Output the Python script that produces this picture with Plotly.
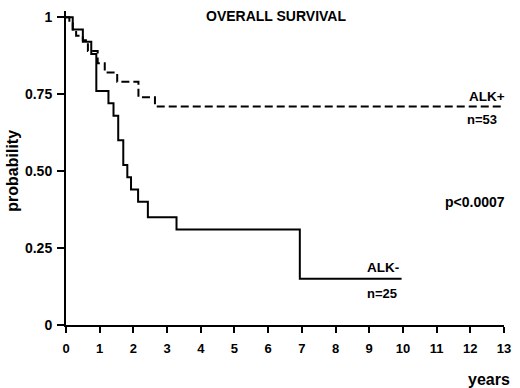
import plotly.graph_objects as go

# ALK- (solid) Kaplan-Meier steps
alk_neg_years = [0, 0.2, 0.5, 0.75, 0.9, 1.26, 1.41, 1.55, 1.70, 1.82, 1.93, 2.14, 2.43, 3.28, 6.94, 9.96]
alk_neg_prob = [1, 0.96, 0.92, 0.88, 0.76, 0.72, 0.68, 0.60, 0.52, 0.48, 0.44, 0.40, 0.35, 0.31, 0.15, 0.15]

# ALK+ (dashed) Kaplan-Meier steps
alk_pos_years = [0, 0.1, 0.2, 0.3, 0.5, 0.65, 0.94, 1.15, 1.52, 2.15, 2.64, 13]
alk_pos_prob = [1, 0.98, 0.96, 0.94, 0.925, 0.89, 0.85, 0.82, 0.79, 0.74, 0.71, 0.71]

x_ticks = list(range(0, 14))
y_ticks = [0, 0.25, 0.5, 0.75, 1]
y_tick_labels = ["0", "0.25", "0.50", "0.75", "1"]

FONT = "Liberation Sans, Arial, sans-serif"

fig = go.Figure()
fig.add_trace(go.Scatter(x=alk_pos_years, y=alk_pos_prob, mode="lines",
                         line=dict(color="black", width=2, dash="8px,4px", shape="hv"),
                         showlegend=False, hoverinfo="skip"))
fig.add_trace(go.Scatter(x=alk_neg_years, y=alk_neg_prob, mode="lines",
                         line=dict(color="black", width=2, shape="hv"),
                         showlegend=False, hoverinfo="skip"))

def ann(text, x, y, xanchor="center", size=13, ref="data", **kw):
    fig.add_annotation(text=text, x=x, y=y,
                       xref="x" if ref == "data" else "paper",
                       yref="y" if ref == "data" else "paper",
                       showarrow=False, xanchor=xanchor, yanchor="middle",
                       font=dict(family=FONT, size=size, color="black", weight=700), **kw)

ann("OVERALL SURVIVAL", 6.24, 1.003, size=14)
ann("ALK+", 12.95, 0.742, xanchor="right", size=13.5, xshift=5)
ann("n=53", 12.85, 0.668, xanchor="right", size=13)
ann("ALK-", 9.93, 0.187, xanchor="right", size=13.5)
ann("n=25", 9.87, 0.103, xanchor="right", size=13)
ann("p<0.0007", 12.13, 0.40, size=14)
ann("years", 0.966, -0.174, size=16, ref="paper")
ann("probability", -0.1216, 0.4905, size=16, ref="paper", textangle=-90)

fig.update_xaxes(range=[0, 13], tickvals=x_ticks, ticktext=[str(v) for v in x_ticks],
                 showgrid=False, zeroline=False, showline=True, linecolor="black", linewidth=2,
                 ticks="outside", ticklen=6, tickwidth=2, tickcolor="black",
                 ticklabelstandoff=4,
                 tickfont=dict(family=FONT, size=13, color="black", weight=700))
fig.update_yaxes(range=[0, 1.02], tickvals=y_ticks, ticktext=y_tick_labels,
                 showgrid=False, zeroline=False, showline=True, linecolor="black", linewidth=2,
                 ticks="outside", ticklen=7, tickwidth=2, tickcolor="black",
                 ticklabelstandoff=2,
                 tickfont=dict(family=FONT, size=14, color="black", weight=700))

fig.update_layout(width=520, height=388, margin=dict(l=66, r=10, t=9, b=63),
                  plot_bgcolor="white", paper_bgcolor="white")

# remove the default 8px page margin so the figure fills the 520x388 window
fig.write_html("out.html", config={"displayModeBar": False},
               post_script="document.body.style.margin='0';document.body.style.overflow='hidden';")
